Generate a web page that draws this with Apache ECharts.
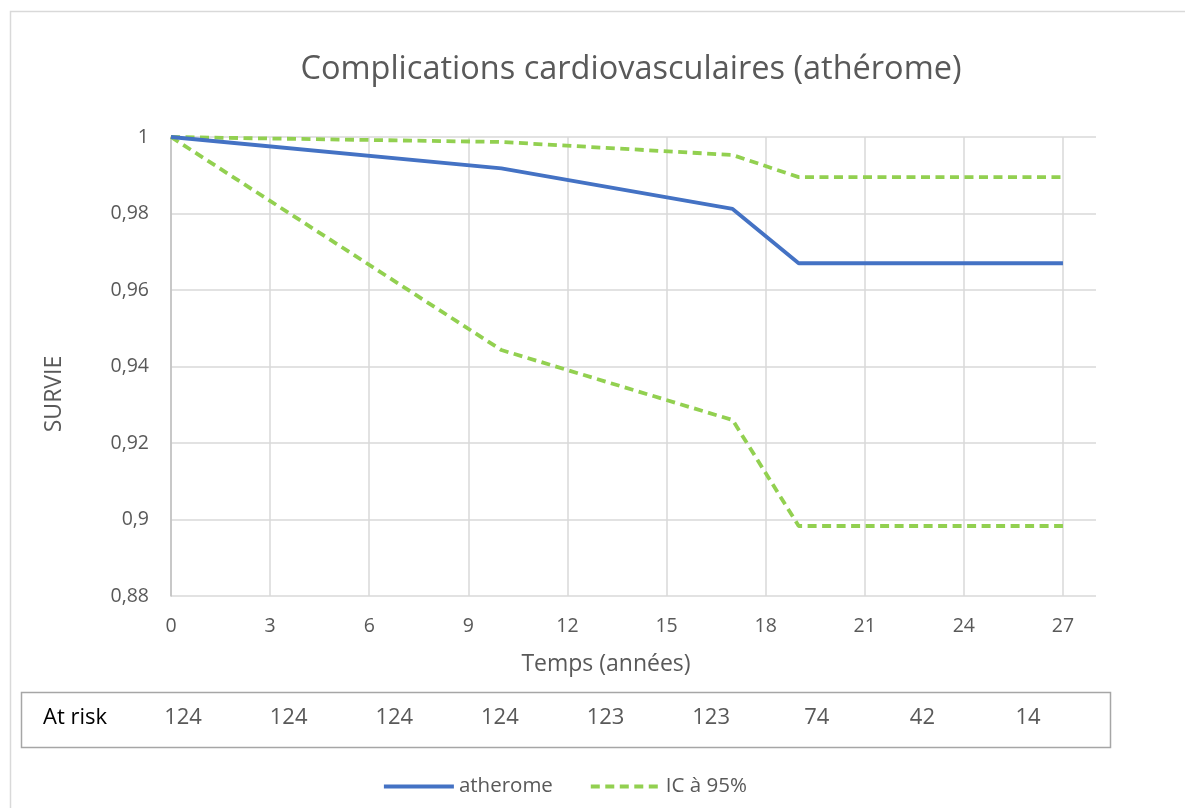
<!DOCTYPE html>
<html>
<head>
<meta charset="utf-8">
<script src="https://cdn.jsdelivr.net/npm/echarts@6/dist/echarts.min.js"></script>
<style>
html,body{margin:0;padding:0;background:#fff;}
#chart{width:1185px;height:808px;}
</style>
</head>
<body>
<div id="chart"></div>
<script>
// ---- Data ----
const titleText = 'Complications cardiovasculaires (athérome)';
const xName = 'Temps (années)';
const yName = 'SURVIE';
const years = [0, 10, 17, 19, 27];
const survie = [1, 0.9918, 0.9812, 0.967, 0.967];
const icUpper = [1, 0.9987, 0.9953, 0.9895, 0.9895];
const icLower = [1, 0.9443, 0.926, 0.8983, 0.8983];
const riskLabel = 'At risk';
const atRisk = [124, 124, 124, 124, 123, 123, 74, 42, 14];
const seriesNames = ['atherome', 'IC à 95%'];

// ---- Styles ----
const FONT = '"Open Sans", "Noto Sans", sans-serif';
const GREY = '#595959';
const BLUE = '#4472C4';
const GREEN = '#92D050';

const pairs = (xs, ys) => xs.map((x, i) => [x, ys[i]]);

const chart = echarts.init(document.getElementById('chart'), null, {renderer: 'canvas'});

// at-risk table graphic
const tbl = {left: 21, top: 692, width: 1089, height: 55};
const firstX = 183, lastX = 1028;
const step = (lastX - firstX) / (atRisk.length - 1);
const tableEls = [
  {type: 'rect', shape: {x: tbl.left + 0.5, y: tbl.top + 0.5, width: tbl.width, height: tbl.height},
   style: {fill: 'none', stroke: '#a6a6a6', lineWidth: 1.5}},
  {type: 'text', x: 75, y: 718,
   style: {text: riskLabel, font: '22px ' + FONT, fill: '#000', textAlign: 'center', textVerticalAlign: 'middle'}}
];
atRisk.forEach((v, i) => {
  tableEls.push({type: 'text', x: firstX + i * step, y: 718,
    style: {text: String(v), font: '22px ' + FONT, fill: GREY, textAlign: 'center', textVerticalAlign: 'middle'}});
});

const option = {
  backgroundColor: '#fff',
  animation: false,
  title: {
    text: titleText, left: 626, top: 48, textAlign: 'center',
    textStyle: {fontFamily: FONT, fontSize: 32.5, fontWeight: 'normal', color: GREY}
  },
  grid: {left: 171, right: 89, top: 137, bottom: 212, containLabel: false},
  legend: {
    left: 377, top: 771, itemWidth: 70, itemHeight: 14, itemGap: 36,
    itemStyle: {opacity: 0},
    lineStyle: {width: 3.8},
    textStyle: {fontFamily: FONT, fontSize: 20.5, color: GREY},
    data: seriesNames
  },
  xAxis: {
    type: 'value', min: 0, max: 28, interval: 3,
    axisLine: {show: false}, axisTick: {show: false},
    axisLabel: {fontFamily: FONT, fontSize: 19.5, color: GREY, margin: 20, showMaxLabel: false},
    splitLine: {show: true, showMaxLine: false, lineStyle: {color: '#d9d9d9', width: 1.5}}
  },
  yAxis: {
    type: 'value', min: 0.88, max: 1, interval: 0.02,
    axisLine: {show: true, lineStyle: {color: '#bfbfbf', width: 1.5}}, axisTick: {show: false},
    axisLabel: {fontFamily: FONT, fontSize: 19.5, color: GREY, margin: 22,
      formatter: v => String(+v.toFixed(2)).replace('.', ',')},
    splitLine: {show: true, lineStyle: {color: '#d9d9d9', width: 1.5}}
  },
  series: [
    {name: seriesNames[0], type: 'line', data: pairs(years, survie), symbol: 'none', z: 3,
     color: BLUE, lineStyle: {color: BLUE, width: 3.8}},
    {name: seriesNames[1], type: 'line', data: pairs(years, icUpper), symbol: 'none', z: 2,
     color: GREEN, lineStyle: {color: GREEN, width: 3.8, type: [9, 5.5]}},
    {name: seriesNames[1], type: 'line', data: pairs(years, icLower), symbol: 'none', z: 2,
     color: GREEN, lineStyle: {color: GREEN, width: 3.8, type: [9, 5.5]}}
  ],
  graphic: [
    {type: 'rect', silent: true, z: -1, shape: {x: 10.5, y: 11.5, width: 1200, height: 900},
     style: {fill: 'none', stroke: '#d9d9d9', lineWidth: 1.5}},
    {type: 'text', x: 54, y: 394, rotation: Math.PI / 2,
     style: {text: yName, font: '23px ' + FONT, fill: GREY, textAlign: 'center', textVerticalAlign: 'middle'}},
    {type: 'text', x: 606, y: 664,
     style: {text: xName, font: '23px ' + FONT, fill: GREY, textAlign: 'center', textVerticalAlign: 'middle'}}
  ].concat(tableEls)
};
chart.setOption(option);
</script>
</body>
</html>
